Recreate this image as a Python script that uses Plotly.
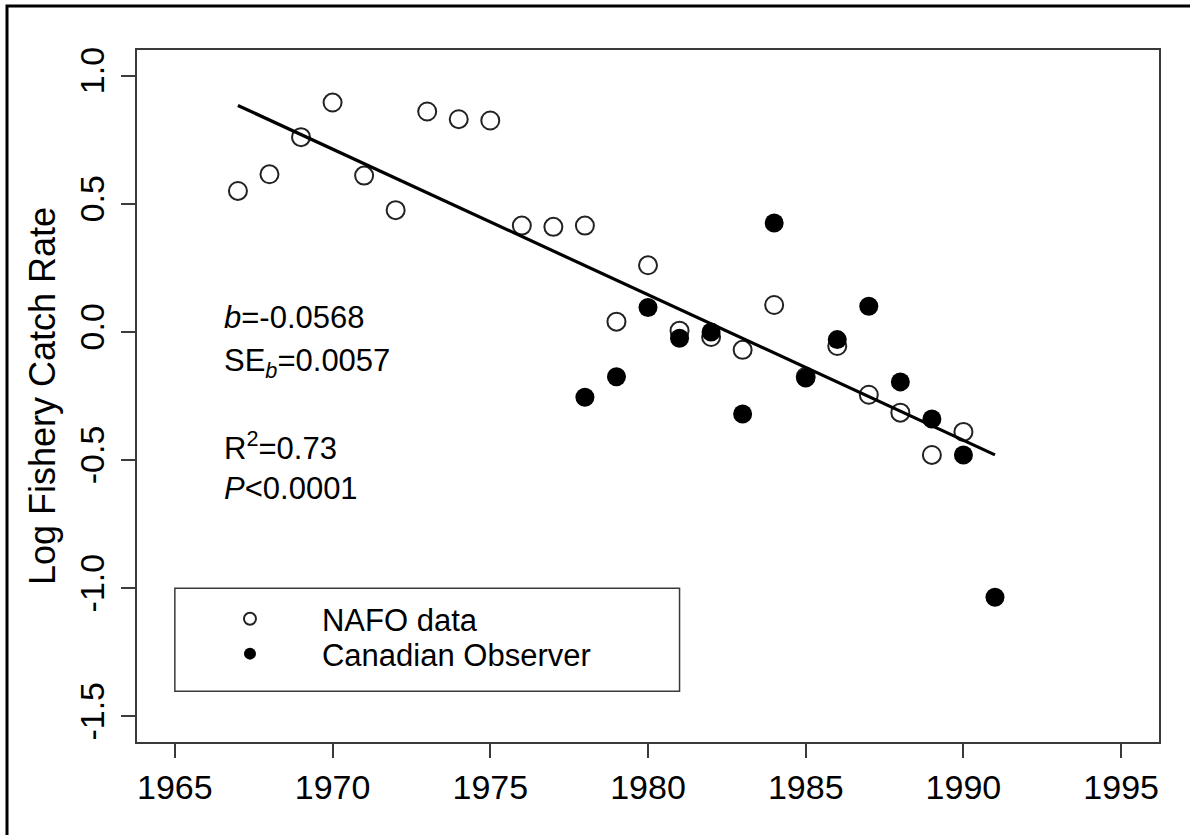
import plotly.graph_objects as go

# ---- data -------------------------------------------------------------
nafo_years = [1967, 1968, 1969, 1970, 1971, 1972, 1973, 1974, 1975, 1976, 1977, 1978,
              1979, 1980, 1981, 1982, 1983, 1984, 1985, 1986, 1987, 1988, 1989, 1990]
nafo_rate = [0.55, 0.615, 0.76, 0.895, 0.61, 0.475, 0.86, 0.83, 0.825, 0.415, 0.41, 0.415,
             0.04, 0.26, 0.005, -0.02, -0.07, 0.105, -0.175, -0.055, -0.245, -0.315, -0.48, -0.39]

obs_years = [1978, 1979, 1980, 1981, 1982, 1983, 1984, 1985, 1986, 1987, 1988, 1989, 1990, 1991]
obs_rate = [-0.255, -0.175, 0.095, -0.025, 0.0, -0.32, 0.425, -0.18, -0.03, 0.1, -0.195,
            -0.34, -0.48, -1.035]

# fitted regression (slope from the printed statistics)
fit_slope = -0.0568
fit_ref_year = 1979
fit_ref_value = 0.202
fit_years = [1967, 1991]
fit_values = [fit_ref_value + fit_slope * (yr - fit_ref_year) for yr in fit_years]

x_ticks = [1965, 1970, 1975, 1980, 1985, 1990, 1995]
y_ticks = [-1.5, -1.0, -0.5, 0.0, 0.5, 1.0]
y_ticktext = ["-1.5", "-1.0", "-0.5", "0.0", "0.5", "1.0"]

stats_lines = ["<i>b</i>=-0.0568", "SE<sub><i>b</i></sub>=0.0057",
               "R<sup>2</sup>=0.73", "<i>P</i>&lt;0.0001"]
stats_y = [0.055, -0.12, -0.445, -0.61]

# ---- figure -----------------------------------------------------------
FONT = "Liberation Sans, Arial, Helvetica, sans-serif"
AXIS_COLOR = "#3a3a3a"

fig = go.Figure()

fig.add_trace(go.Scatter(
    x=nafo_years, y=nafo_rate, mode="markers", name="NAFO data", legend="legend",
    marker=dict(symbol="circle-open", size=18, color="#222222",
                line=dict(width=2, color="#222222")),
))
fig.add_trace(go.Scatter(
    x=obs_years, y=obs_rate, mode="markers", name="Canadian Observer", legend="legend2",
    marker=dict(symbol="circle", size=19, color="black", line=dict(width=0)),
))
fig.add_trace(go.Scatter(
    x=fit_years, y=fit_values, mode="lines", showlegend=False,
    line=dict(color="black", width=3.2),
))

for txt, yy in zip(stats_lines, stats_y):
    fig.add_annotation(x=1966.5, y=yy, text=txt, showarrow=False,
                       xanchor="left", yanchor="middle",
                       font=dict(family=FONT, size=31, color="black"))

# legend frame
fig.add_shape(type="rect", xref="x", yref="y", x0=1965, x1=1981, y0=-1.402, y1=-1.0,
              line=dict(color=AXIS_COLOR, width=1.5), fillcolor="rgba(0,0,0,0)")

# outer figure frame (left and top edges visible)
fig.add_shape(type="rect", xref="paper", yref="paper",
              x0=-0.1272, x1=1.3, y0=-0.3, y1=1.0636,
              line=dict(color="black", width=3), fillcolor="rgba(0,0,0,0)")

axis_common = dict(
    showline=True, mirror=True, linecolor=AXIS_COLOR, linewidth=1.5,
    ticks="outside", ticklen=14, tickwidth=1.5, tickcolor=AXIS_COLOR,
    showgrid=False, zeroline=False,
    tickfont=dict(family=FONT, size=34, color="black"),
)

fig.update_xaxes(range=[1963.8, 1996.2], tickvals=x_ticks, **axis_common)
fig.update_yaxes(range=[-1.6, 1.1], tickvals=y_ticks, ticktext=y_ticktext,
                 tickangle=-90, ticklabelstandoff=4,
                 title=dict(text="Log Fishery Catch Rate", standoff=6,
                            font=dict(family=FONT, size=36, color="black")),
                 **axis_common)

legend_common = dict(
    xanchor="left", yanchor="middle", bgcolor="rgba(0,0,0,0)", borderwidth=0,
    itemsizing="constant", itemwidth=134,
    font=dict(family=FONT, size=31, color="black"),
)

fig.update_layout(
    width=1190, height=835,
    margin=dict(l=137, r=31, t=50, b=93, pad=0),
    plot_bgcolor="white", paper_bgcolor="white",
    showlegend=True,
    legend=dict(x=0.0401, y=0.1777, **legend_common),
    legend2=dict(x=0.0401, y=0.1272, **legend_common),
)

fig.write_html("out.html")
